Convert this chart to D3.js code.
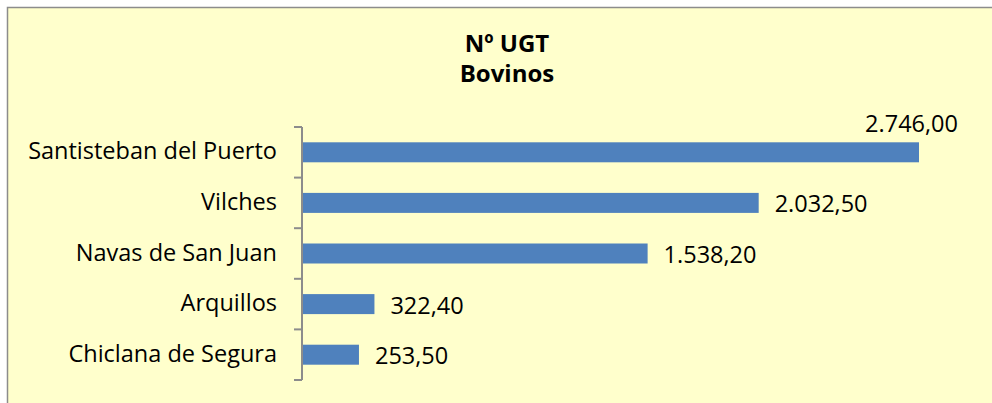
<!DOCTYPE html>
<html>
<head>
<meta charset="utf-8">
<script src="https://cdn.jsdelivr.net/npm/d3@7"></script>
<style>
  body { margin: 0; background: #ffffff; }
  svg { display: block; font-family: "Open Sans", sans-serif; }
  .cat { font-size: 23.5px; fill: #000; }
  .val { font-size: 23.5px; fill: #000; }
  .title { font-size: 24px; font-weight: bold; fill: #000; }
</style>
</head>
<body>
<script>
var svgWidth = 992;
var svgHeight = 403;

// Data.
var categories = ["Santisteban del Puerto", "Vilches", "Navas de San Juan", "Arquillos", "Chiclana de Segura"];
var values = [2746.00, 2032.50, 1538.20, 322.40, 253.50];
var titleLines = ["Nº UGT", "Bovinos"];

// Plot area.
var plotLeft = 302, plotTop = 127, plotBottom = 380;

var svg = d3.select("body")
  .append("svg")
  .attr("width", svgWidth)
  .attr("height", svgHeight);

// Chart frame (extends off the right and bottom edge).
svg.append("rect")
  .attr("x", 7.5)
  .attr("y", 7.5)
  .attr("width", svgWidth + 20)
  .attr("height", svgHeight + 20)
  .attr("fill", "#ffffcc")
  .attr("stroke", "#8c8c8c")
  .attr("stroke-width", 1.5);

// Title.
svg.selectAll("text.title")
  .data(titleLines)
  .enter().append("text")
  .attr("class", "title")
  .attr("x", 507)
  .attr("y", function(d, i) { return 52 + i * 30; })
  .attr("text-anchor", "middle")
  .text(function(d) { return d; });

var x = d3.scaleLinear()
  .domain([0, 3000])
  .range([plotLeft, plotLeft + 3000 * (617 / 2746)]);

// Vertical axis with tick marks between categories.
var band = (plotBottom - plotTop) / categories.length;
var ticks = d3.range(categories.length + 1).map(function(i) { return plotTop + i * band; });

var axis = svg.append("g").attr("stroke", "#8c8c8c").attr("stroke-width", 2);
axis.append("line")
  .attr("x1", plotLeft).attr("x2", plotLeft)
  .attr("y1", plotTop).attr("y2", plotBottom);
axis.selectAll("line.tick")
  .data(ticks)
  .enter().append("line")
  .attr("class", "tick")
  .attr("x1", plotLeft - 8).attr("x2", plotLeft)
  .attr("y1", function(d) { return d; })
  .attr("y2", function(d) { return d; });

function mid(i) { return plotTop + i * band + band / 2; }

// Bars.
svg.selectAll("rect.bar")
  .data(values)
  .enter().append("rect")
  .attr("class", "bar")
  .attr("x", x(0) + 1)
  .attr("y", function(d, i) { return mid(i) - 10; })
  .attr("width", function(d) { return x(d) - x(0) - 1; })
  .attr("height", 20)
  .attr("fill", "#4f81bd");

// Category labels.
svg.selectAll("text.cat")
  .data(categories)
  .enter().append("text")
  .attr("class", "cat")
  .attr("x", 277)
  .attr("y", function(d, i) { return mid(i) + 7; })
  .attr("text-anchor", "end")
  .text(function(d) { return d; });

// Value labels: Spanish number format.
var fmt = d3.formatLocale({ decimal: ",", thousands: ".", grouping: [3], currency: ["", "€"] }).format(",.2f");
svg.selectAll("text.val")
  .data(values)
  .enter().append("text")
  .attr("class", "val")
  .attr("x", function(d, i) { return i === 0 ? 958 : x(d) + 16; })
  .attr("y", function(d, i) { return i === 0 ? mid(i) - 20 : mid(i) + 9.5; })
  .attr("text-anchor", function(d, i) { return i === 0 ? "end" : "start"; })
  .text(function(d) { return fmt(d); });
</script>
</body>
</html>
